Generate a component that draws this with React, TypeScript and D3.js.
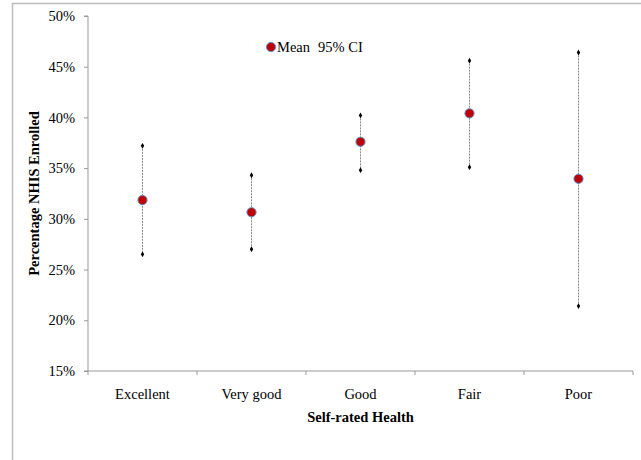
import React, { useEffect, useRef } from "react";
import * as d3 from "d3";

const categories = ["Excellent", "Very good", "Good", "Fair", "Poor"];
const meanValues = [31.85, 30.65, 37.6, 40.4, 33.95];
const upperValues = [37.2, 34.3, 40.2, 45.6, 46.4];
const lowerValues = [26.5, 27.0, 34.8, 35.1, 21.4];
const yTicks = [15, 20, 25, 30, 35, 40, 45, 50];

export default function App() {
  const ref = useRef<SVGSVGElement>(null);

  useEffect(() => {
    const svg = d3.select(ref.current);
    svg.selectAll("*").remove();

    const font = "'Liberation Serif', 'Times New Roman', serif";
    const fs = 14.5;
    const margin = { top: 16, right: 8, bottom: 89, left: 88 };
    const width = 641;
    const height = 460;
    const innerW = width - margin.left - margin.right;
    const innerH = height - margin.top - margin.bottom;

    // outer frame (chart area border)
    svg
      .append("rect")
      .attr("x", 12.5)
      .attr("y", 3.5)
      .attr("width", 700)
      .attr("height", 500)
      .attr("fill", "white")
      .attr("stroke", "#bdbdbd")
      .attr("stroke-width", 1.5);

    const x = d3.scaleBand().domain(categories).range([0, innerW]);
    const y = d3.scaleLinear().domain([15, 50]).range([innerH, 0]);

    const g = svg
      .append("g")
      .attr("transform", `translate(${margin.left},${margin.top})`);

    // y axis
    const yAxis = g
      .append("g")
      .call(
        d3
          .axisLeft(y)
          .tickValues(yTicks)
          .tickSize(4)
          .tickPadding(9)
          .tickFormat((d) => `${d}%`)
      );
    yAxis.select(".domain").attr("stroke", "#999").attr("d", `M-4,0H0V${innerH}H-4`);
    yAxis.selectAll(".tick line").attr("stroke", "#999");
    yAxis
      .selectAll("text")
      .attr("font-family", font)
      .attr("font-size", fs)
      .attr("fill", "#000");

    // x axis with ticks at band edges
    const xAxis = g.append("g").attr("transform", `translate(0,${innerH})`);
    xAxis
      .append("line")
      .attr("x1", 0)
      .attr("x2", innerW)
      .attr("stroke", "#999");
    xAxis
      .selectAll(".edge")
      .data(d3.range(categories.length + 1))
      .join("line")
      .attr("x1", (i) => i * x.bandwidth())
      .attr("x2", (i) => i * x.bandwidth())
      .attr("y1", 0)
      .attr("y2", 4)
      .attr("stroke", "#999");
    xAxis
      .selectAll(".lab")
      .data(categories)
      .join("text")
      .attr("x", (d) => x(d)! + x.bandwidth() / 2)
      .attr("y", 28)
      .attr("text-anchor", "middle")
      .attr("font-family", font)
      .attr("font-size", fs)
      .text((d) => d);

    // CI lines
    const cx = (i: number) => x(categories[i])! + x.bandwidth() / 2;
    g.selectAll(".ci")
      .data(categories)
      .join("line")
      .attr("x1", (_, i) => cx(i))
      .attr("x2", (_, i) => cx(i))
      .attr("y1", (_, i) => y(upperValues[i]))
      .attr("y2", (_, i) => y(lowerValues[i]))
      .attr("stroke", "#888")
      .attr("stroke-width", 1)
      .attr("stroke-dasharray", "2,1");

    const diamond = d3.symbol().type(d3.symbolDiamond).size(10);
    const ends = categories.flatMap((_, i) => [
      [cx(i), y(upperValues[i])],
      [cx(i), y(lowerValues[i])],
    ]);
    g.selectAll(".end")
      .data(ends)
      .join("path")
      .attr("d", diamond)
      .attr("transform", (d) => `translate(${d[0]},${d[1]})`)
      .attr("fill", "#000");

    // means
    g.selectAll(".mean")
      .data(meanValues)
      .join("circle")
      .attr("cx", (_, i) => cx(i))
      .attr("cy", (d) => y(d))
      .attr("r", 4.6)
      .attr("fill", "#c00000")
      .attr("stroke", "#5b8fd0")
      .attr("stroke-width", 1);

    // legend
    const leg = svg.append("g").attr("transform", "translate(271,47)");
    leg
      .append("circle")
      .attr("r", 4.6)
      .attr("fill", "#c00000")
      .attr("stroke", "#5b8fd0")
      .attr("stroke-width", 1);
    leg
      .append("text")
      .attr("x", 6)
      .attr("y", 5)
      .attr("font-family", font)
      .attr("font-size", fs)
      .text("Mean");
    leg
      .append("text")
      .attr("x", 47)
      .attr("y", 5)
      .attr("font-family", font)
      .attr("font-size", fs)
      .text("95% CI");

    // axis titles
    svg
      .append("text")
      .attr("x", margin.left + innerW / 2)
      .attr("y", 422)
      .attr("text-anchor", "middle")
      .attr("font-family", font)
      .attr("font-weight", "bold")
      .attr("font-size", fs)
      .text("Self-rated Health");
    svg
      .append("text")
      .attr("transform", `translate(39,${margin.top + innerH / 2}) rotate(-90)`)
      .attr("text-anchor", "middle")
      .attr("font-family", font)
      .attr("font-weight", "bold")
      .attr("font-size", fs)
      .text("Percentage NHIS Enrolled");
  }, []);

  return (
    <svg
      ref={ref}
      width={641}
      height={460}
      style={{ position: "absolute", left: 0, top: 0, background: "white" }}
    />
  );
}
